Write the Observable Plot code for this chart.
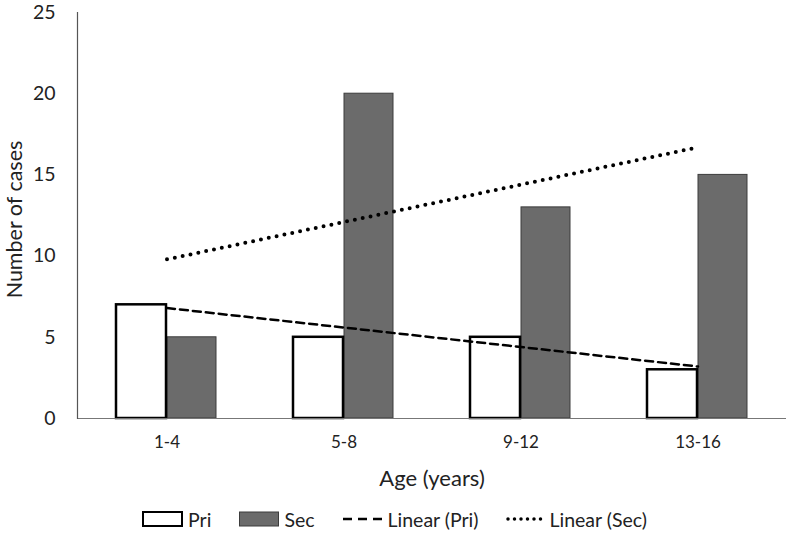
<!DOCTYPE html>
<html>
<head>
<meta charset="utf-8">
<script src="https://cdn.jsdelivr.net/npm/d3@7"></script>
<script src="https://cdn.jsdelivr.net/npm/@observablehq/plot@0.6"></script>
<style>
  body { margin: 0; background: #fff; font-family: Lato, "Open Sans", sans-serif; }
  #chart svg { display: block; }
  .legend { display: flex; justify-content: center; align-items: center; height: 54px; font-size: 19.5px; color: #222; }
  .item { display: flex; align-items: center; margin: 0 14px; }
  .item svg { margin-right: 5px; }
</style>
</head>
<body>
<div id="chart"></div>
<div class="legend" id="legend"></div>
<script>
const categories = ["1-4", "5-8", "9-12", "13-16"];
const pri = [7, 5, 5, 3];
const sec = [5, 20, 13, 15];
const yTicks = [0, 5, 10, 15, 20, 25];

// linear trend (least squares over category index)
function fit(vals) {
  const xs = vals.map((_, i) => i + 1);
  const mx = d3.mean(xs), my = d3.mean(vals);
  const b = d3.sum(xs, (x, i) => (x - mx) * (vals[i] - my)) / d3.sum(xs, x => (x - mx) ** 2);
  const a = my - b * mx;
  return xs.map(x => a + b * x);
}
const priFit = fit(pri), secFit = fit(sec);

const rows = categories.map((c, i) => ({age: c, pri: pri[i], sec: sec[i], priFit: priFit[i], secFit: secFit[i]}));

const chart = Plot.plot({
  width: 789,
  height: 492,
  marginTop: 12,
  marginLeft: 77,
  marginRight: 3,
  marginBottom: 74,
  style: {fontFamily: "Lato, 'Open Sans', sans-serif", fontSize: "16px", color: "#222", overflow: "visible"},
  x: {type: "band", domain: categories, padding: 0, label: null},
  y: {domain: [0, 25], label: null},
  marks: [
    Plot.axisX({tickSize: 0, tickPadding: 17, fontSize: 17, label: null}),
    Plot.axisY({ticks: yTicks, tickSize: 0, tickPadding: 22, fontSize: 19.5, label: null}),
    Plot.text(["Age (years)"], {frameAnchor: "bottom", dy: 67, fontSize: 22, lineAnchor: "bottom"}),
    Plot.text(["Number of cases"], {frameAnchor: "left", dx: -62, dy: 4, rotate: -90, fontSize: 21.5, textAnchor: "middle"}),
    Plot.barY(rows, {x: "age", y: "sec", fill: "#6b6b6b", stroke: "#3c3c3c", strokeWidth: 1, insetLeft: 89, insetRight: 39}),
    Plot.barY(rows, {x: "age", y: "pri", fill: "white", stroke: "black", strokeWidth: 2.5, insetLeft: 38, insetRight: 89}),
    Plot.ruleY([0], {stroke: "#777", strokeWidth: 1.2}),
    Plot.frame({anchor: "left", stroke: "#555", strokeWidth: 1.2}),
    Plot.lineY(rows, {x: "age", y: "priFit", stroke: "black", strokeWidth: 2.5, strokeDasharray: "8,5"}),
    Plot.lineY(rows, {x: "age", y: "secFit", stroke: "black", strokeWidth: 4, strokeDasharray: "0,8", strokeLinecap: "round"})
  ]
});
document.getElementById("chart").appendChild(chart);

const legendItems = [
  {label: "Pri", svg: '<svg width="41" height="16"><rect x="1" y="1" width="39" height="14" fill="white" stroke="black" stroke-width="2"/></svg>'},
  {label: "Sec", svg: '<svg width="40" height="16"><rect x="0.5" y="1" width="39" height="14" fill="#6b6b6b" stroke="#3c3c3c" stroke-width="1"/></svg>'},
  {label: "Linear (Pri)", svg: '<svg width="40" height="16"><line x1="0" x2="40" y1="8" y2="8" stroke="black" stroke-width="2.5" stroke-dasharray="9,6"/></svg>'},
  {label: "Linear (Sec)", svg: '<svg width="38" height="16"><line x1="2" x2="38" y1="8" y2="8" stroke="black" stroke-width="3.5" stroke-dasharray="0,6.5" stroke-linecap="round"/></svg>'}
];
const leg = document.getElementById("legend");
for (const it of legendItems) {
  const d = document.createElement("div");
  d.className = "item";
  d.innerHTML = it.svg + "<span>" + it.label + "</span>";
  leg.appendChild(d);
}
</script>
</body>
</html>
